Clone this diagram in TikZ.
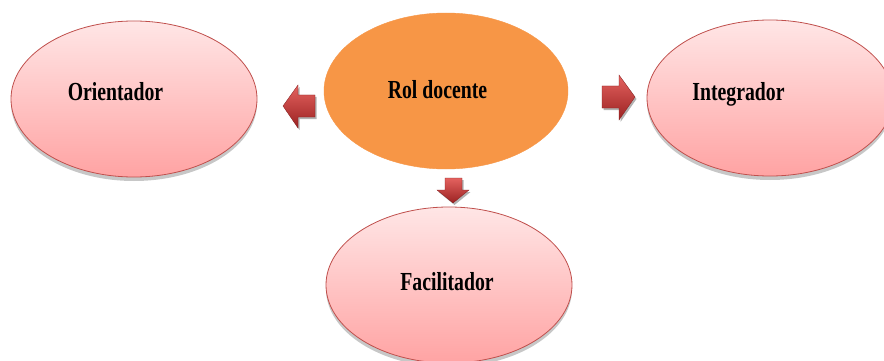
\documentclass[tikz,border=0pt]{standalone}
\usepackage{fontspec}
\newfontfamily\lblfont[FakeStretch=0.76]{Liberation Serif}
\usetikzlibrary{shapes.geometric,shadows}
\definecolor{pinkTop}{RGB}{255,230,230}
\definecolor{pinkBot}{RGB}{255,163,163}
\definecolor{pinkLine}{RGB}{192,80,77}
\definecolor{orangeFill}{RGB}{247,150,70}
\definecolor{arrowTop}{RGB}{228,98,95}
\definecolor{arrowBot}{RGB}{155,34,34}
\begin{document}
\begin{tikzpicture}[x=1pt,y=-1pt,
  role/.style={ellipse, draw=pinkLine, line width=0.8pt, top color=pinkTop, bottom color=pinkBot,
    minimum width=246pt, minimum height=156pt, inner sep=0pt,
    drop shadow={shadow xshift=0pt, shadow yshift=-4pt, opacity=0.22, fill=black}},
  core/.style={ellipse, fill=orangeFill, draw=orangeFill, minimum width=244pt, minimum height=156pt, inner sep=0pt},
  lbl/.style={font=\lblfont\bfseries\fontsize{26}{28}\selectfont, anchor=base, inner sep=0pt, text=black},
  blockarrow/.style={top color=arrowTop, bottom color=arrowBot, draw=arrowBot!85!black, line width=0.3pt, line join=miter,
    drop shadow={shadow xshift=1.5pt, shadow yshift=-2pt, opacity=0.3, fill=black}}
]
\useasboundingbox (0,0) rectangle (884,361);
\fill[white] (0,0) rectangle (884,361);

\node[role] (ori) at (134,99) {};
\node[core] (rol) at (446,91) {};
\node[role] (int) at (770,98) {};
\node[role] (fac) at (449,285) {};

\node[lbl] (tori) at (115.5,100) {Orientador};
\node[lbl] (trol) at (437.5,99) {Rol docente};
\node[lbl] (tint) at (738.5,100) {Integrador};
\node[lbl] (tfac) at (447,290) {Facilitador};

% left block arrow
\path[blockarrow] (283,106) -- (298,85) -- (298,95) -- (315,95) -- (315,117) -- (298,117) -- (298,128) -- cycle;
% right block arrow
\path[blockarrow] (635,97) -- (619,75) -- (619,86) -- (602,86) -- (602,108) -- (619,108) -- (619,120) -- cycle;
% down block arrow
\path[blockarrow] (453,203) -- (437,190) -- (445,190) -- (445,178) -- (462,178) -- (462,190) -- (469,190) -- cycle;
\end{tikzpicture}
\end{document}
